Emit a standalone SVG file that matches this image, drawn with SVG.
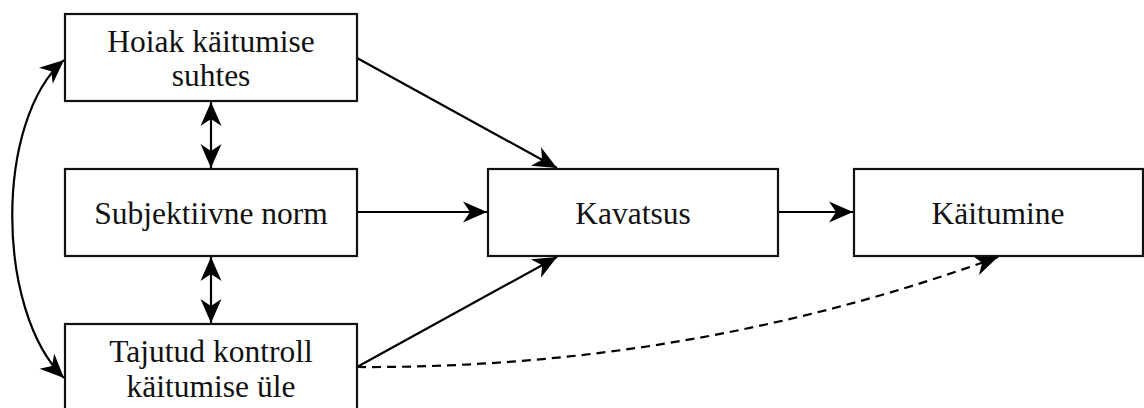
<svg xmlns="http://www.w3.org/2000/svg" width="1144" height="408" viewBox="0 0 1144 408">
<style>
.box{fill:#fff;stroke:#111;stroke-width:2.2}
.lbl{font-family:"Liberation Serif","Times New Roman",serif;font-size:31.5px;fill:#111;text-anchor:middle}
.c{fill:none;stroke:#000;stroke-width:2.2}
.d{stroke-dasharray:9 6}
</style>
<defs>
<marker id="ah" viewBox="-25 -11 26 22" refX="0" refY="0" markerWidth="26" markerHeight="22" markerUnits="userSpaceOnUse" orient="auto-start-reverse">
<path d="M0,0 L-24,-10.5 L-17,0 L-24,10.5 Z" fill="#000"/>
</marker>
</defs>
<g id="connectors">
<path class="c" d="M357,58 L557,168" marker-end="url(#ah)"/>
<path class="c" d="M357,212 L487,212" marker-end="url(#ah)"/>
<path class="c" d="M357,367 L557,257" marker-end="url(#ah)"/>
<path class="c" d="M778,212 L853,212" marker-end="url(#ah)"/>
<path class="c d" d="M357,367 Q690,369 998,257" marker-end="url(#ah)"/>
<path class="c" d="M211,102 L211,168" marker-start="url(#ah)" marker-end="url(#ah)"/>
<path class="c" d="M211,257 L211,323" marker-start="url(#ah)" marker-end="url(#ah)"/>
<path class="c" d="M64,60 C-5,120 -5,310 64,378" marker-start="url(#ah)" marker-end="url(#ah)"/>
</g>
<g id="hoiak">
<rect class="box" x="65" y="14" width="292" height="87"/>
<text class="lbl" x="211" y="52">Hoiak käitumise</text>
<text class="lbl" x="211" y="86">suhtes</text>
</g>
<g id="norm">
<rect class="box" x="65" y="169" width="292" height="87"/>
<text class="lbl" x="211" y="224">Subjektiivne norm</text>
</g>
<g id="kontroll">
<rect class="box" x="65" y="324" width="292" height="87"/>
<text class="lbl" x="211" y="362">Tajutud kontroll</text>
<text class="lbl" x="211" y="397">käitumise üle</text>
</g>
<g id="kavatsus">
<rect class="box" x="488" y="169" width="290" height="87"/>
<text class="lbl" x="633" y="224">Kavatsus</text>
</g>
<g id="kaitumine">
<rect class="box" x="854" y="169" width="289" height="87"/>
<text class="lbl" x="998" y="224">Käitumine</text>
</g>
</svg>
